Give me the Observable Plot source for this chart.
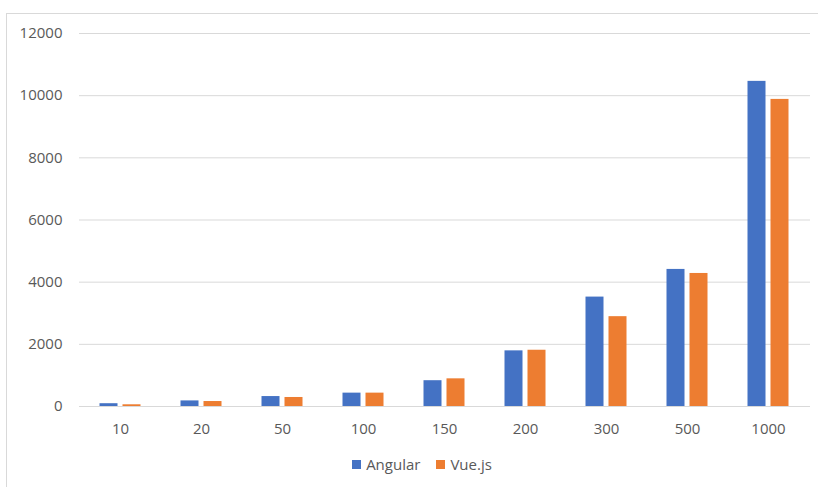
<!DOCTYPE html>
<html>
<head>
<meta charset="utf-8">
<script src="https://cdn.jsdelivr.net/npm/d3@7"></script>
<script src="https://cdn.jsdelivr.net/npm/@observablehq/plot@0.6"></script>
<style>
  html, body { margin: 0; padding: 0; background: #fff; overflow: hidden; }
  #wrap { position: relative; width: 818px; height: 487px; overflow: hidden; font-family: "Open Sans", "Liberation Sans", sans-serif; }
  #frame { position: absolute; left: 6px; top: 13px; width: 900px; height: 600px; border: 1px solid #d9d9d9; box-sizing: border-box; }
  #chart { position: absolute; left: 0; top: 0; }
  #legend { position: absolute; top: 454px; left: 0; width: 844px; line-height: 20px; display: flex; justify-content: center; gap: 16px; font-size: 15px; color: #595959; }
  .item { display: flex; align-items: center; gap: 5px; }
  .sw { width: 9px; height: 9px; display: inline-block; }
</style>
</head>
<body>
<div id="wrap">
  <div id="frame"></div>
  <div id="chart"></div>
  <div id="legend"></div>
</div>
<script>
const categories = ["10", "20", "50", "100", "150", "200", "300", "500", "1000"];
const angular = [90, 180, 320, 430, 830, 1790, 3520, 4410, 10460];
const vue = [55, 160, 290, 430, 890, 1810, 2890, 4280, 9880];
const seriesNames = ["Angular", "Vue.js"];
const seriesColors = ["#4472C4", "#ED7D31"];
const yTicks = [0, 2000, 4000, 6000, 8000, 10000, 12000];

const angularData = categories.map((c, i) => ({cat: c, series: "Angular", value: angular[i]}));
const vueData = categories.map((c, i) => ({cat: c, series: "Vue.js", value: vue[i]}));

const chart = Plot.plot({
  width: 818,
  height: 450,
  marginLeft: 79,
  marginRight: 8,
  marginTop: 33,
  marginBottom: 44,
  style: {fontFamily: "'Open Sans', 'Liberation Sans', sans-serif", fontSize: "15px", color: "#595959", background: "transparent", overflow: "visible"},
  x: {domain: categories, paddingInner: 0.775, paddingOuter: 0.378},
  y: {domain: [0, 12000]},
  color: {domain: seriesNames, range: seriesColors},
  marks: [
    Plot.ruleY(yTicks, {stroke: "#d9d9d9", strokeWidth: 1}),
    Plot.axisY({ticks: yTicks, tickFormat: d3.format("d"), label: null, tickSize: 0, tickPadding: 17, fontSize: 15, fill: "#595959"}),
    Plot.axisX({label: null, tickSize: 0, tickPadding: 17, fontSize: 15, fill: "#595959"}),
    Plot.barY(angularData, {x: "cat", y: "value", fill: "series", dx: -11.5}),
    Plot.barY(vueData, {x: "cat", y: "value", fill: "series", dx: 11.5})
  ]
});
document.getElementById("chart").appendChild(chart);

const legend = document.getElementById("legend");
seriesNames.forEach((name, i) => {
  const item = document.createElement("div");
  item.className = "item";
  const sw = document.createElement("span");
  sw.className = "sw";
  sw.style.background = seriesColors[i];
  const label = document.createElement("span");
  label.textContent = name;
  item.appendChild(sw);
  item.appendChild(label);
  legend.appendChild(item);
});
</script>
</body>
</html>
